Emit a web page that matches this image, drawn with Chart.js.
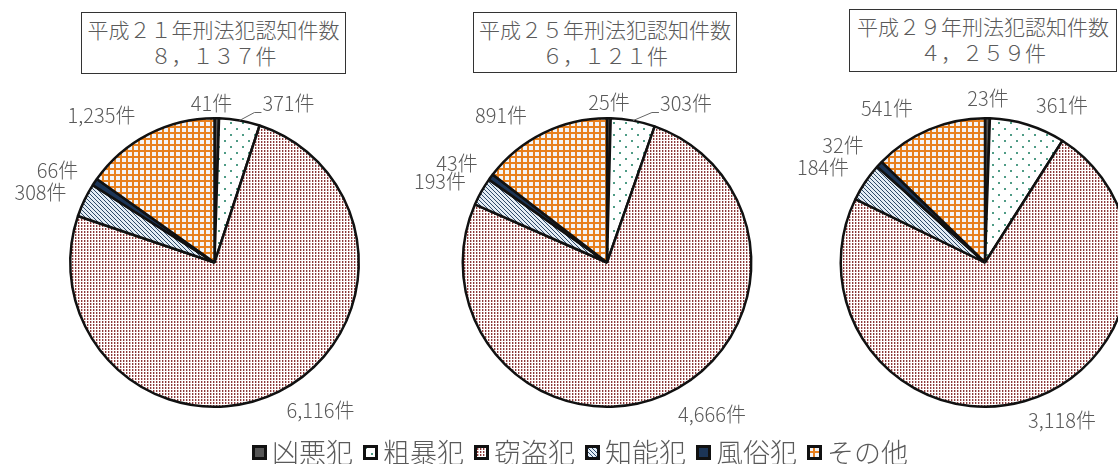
<!DOCTYPE html>
<html lang="ja">
<head>
<meta charset="utf-8">
<script src="https://cdn.jsdelivr.net/npm/chart.js@4.4.1/dist/chart.umd.min.js"></script>
<style>
  html, body { margin: 0; padding: 0; background: #fff; }
  body { position: relative; width: 1118px; height: 464px; overflow: hidden; font-family: "Noto Sans CJK JP", sans-serif; }
  .title { position: absolute; box-sizing: border-box; border: 1.5px solid #333; color: #5a5a5a; text-align: center; font-size: 21px; font-weight: 300; line-height: 26px; padding-top: 3px; white-space: nowrap; }
  .pie { position: absolute; top: 0; }
  #legend { position: absolute; left: 252px; top: 438px; display: flex; align-items: center; }
  .item { display: flex; align-items: center; margin-right: 10px; }
  .item canvas { display: block; margin-right: 5px; }
  .item span { font-size: 27px; font-weight: 300; line-height: 28px; color: #5a5a5a; }
</style>
</head>
<body>
<div class="title" style="left:81px;top:12px;width:265px;height:62px" id="t0"></div>
<div class="title" style="left:473px;top:12px;width:264px;height:61px" id="t1"></div>
<div class="title" style="left:849px;top:9px;width:268px;height:63px" id="t2"></div>
<canvas class="pie" id="pie0" width="395" height="464" style="left:0px"></canvas>
<canvas class="pie" id="pie1" width="385" height="464" style="left:395px"></canvas>
<canvas class="pie" id="pie2" width="380" height="464" style="left:780px"></canvas>
<div id="legend"></div>
<script>
// data
const categories = ['凶悪犯', '粗暴犯', '窃盗犯', '知能犯', '風俗犯', 'その他'];
const years = ['平成２１年', '平成２５年', '平成２９年'];
const h21 = [41, 371, 6116, 308, 66, 1235];
const h25 = [25, 303, 4666, 193, 43, 891];
const h29 = [23, 361, 3118, 184, 32, 541];
const seriesList = [h21, h25, h29];

// label placement relative to pie centre (category order)
const labelOffsets = [
  [[-3, -159], [74, -159], [106, 148], [-174, -70], [-157, -92], [-113, -147]],
  [[2, -160], [79, -159], [105, 152], [-167, -81], [-150, -99], [-106, -147]],
  [[3, -164], [77, -157], [77, 158], [-162, -95], [-142, -117], [-98, -154]],
];
const leaderLines = [
  [false, true, false, false, false, false],
  [false, true, false, false, false, false],
  [false, false, false, false, false, false],
];
const paddings = [
  { left: 69, right: 35, top: 117, bottom: 56 },
  { left: 66.5, right: 27.5, top: 117, bottom: 56 },
  { left: 59.5, right: 29.5, top: 117, bottom: 56 },
];

function makePattern(kind) {
  const c = document.createElement('canvas');
  const g = c.getContext('2d');
  if (kind === 'solidGray') {
    return '#555';
  }
  if (kind === 'navy') {
    return '#1c3557';
  }
  if (kind === 'dots') {
    c.width = 12; c.height = 12;
    g.fillStyle = '#fff'; g.fillRect(0, 0, 12, 12);
    g.fillStyle = '#4f9c86';
    g.fillRect(2, 2, 2, 2); g.fillRect(8, 8, 2, 2);
  } else if (kind === 'fine') {
    c.width = 3; c.height = 3;
    g.fillStyle = '#fff'; g.fillRect(0, 0, 3, 3);
    g.fillStyle = '#8b3a3a'; g.fillRect(0, 0, 1, 2);
    g.fillStyle = '#d9b6b6'; g.fillRect(1, 0, 1, 2);
  } else if (kind === 'diag') {
    c.width = 4; c.height = 4;
    g.fillStyle = '#e4edf5'; g.fillRect(0, 0, 4, 4);
    g.fillStyle = '#2f4b6a';
    for (let i = 0; i < 4; i++) g.fillRect(i, i, 1, 1);
  } else if (kind === 'grid') {
    c.width = 6; c.height = 6;
    g.fillStyle = '#f3f4f7'; g.fillRect(0, 0, 6, 6);
    g.fillStyle = '#e8801e';
    g.fillRect(0, 0, 6, 2); g.fillRect(0, 0, 2, 6);
  }
  return g.createPattern(c, 'repeat');
}

const fills = ['solidGray', 'dots', 'fine', 'diag', 'navy', 'grid'].map(makePattern);

function fullWidth(n) {
  return n.toLocaleString('en-US').replace(/[0-9]/g, d => String.fromCharCode(0xFF10 + Number(d))).replace(/,/g, '，');
}

const sliceLabels = {
  id: 'sliceLabels',
  afterDraw(chart, args, opts) {
    const ctx = chart.ctx;
    const meta = chart.getDatasetMeta(0);
    const values = chart.data.datasets[0].data;
    const cx = meta.data[0].x, cy = meta.data[0].y;
    ctx.save();
    ctx.font = '300 20px "Noto Sans CJK JP"';
    ctx.fillStyle = '#5a5a5a';
    ctx.textAlign = 'center';
    ctx.textBaseline = 'middle';
    values.forEach((v, i) => {
      const [dx, dy] = opts.offsets[i];
      const text = v.toLocaleString('en-US') + '件';
      ctx.fillText(text, cx + dx, cy + dy);
      if (opts.leaders[i]) {
        const a = meta.data[i];
        const mid = (a.startAngle + a.endAngle) / 2;
        const w = ctx.measureText(text).width;
        const lx = cx + dx - w / 2 - 1, ly = cy + dy + 9;
        ctx.strokeStyle = '#666';
        ctx.lineWidth = 1;
        ctx.beginPath();
        ctx.moveTo(lx, ly);
        ctx.lineTo(lx - 7, ly);
        ctx.lineTo(cx + a.outerRadius * Math.cos(mid), cy + a.outerRadius * Math.sin(mid));
        ctx.stroke();
      }
    });
    ctx.restore();
  }
};

seriesList.forEach((series, k) => {
  const total = series.reduce((s, v) => s + v, 0);
  document.getElementById('t' + k).innerHTML = years[k] + '刑法犯認知件数<br>' + fullWidth(total) + '件';
  new Chart(document.getElementById('pie' + k), {
    type: 'pie',
    data: {
      labels: categories,
      datasets: [{
        data: series,
        backgroundColor: fills,
        borderColor: '#111',
        borderWidth: 2.5,
      }],
    },
    options: {
      responsive: false,
      animation: false,
      layout: { padding: paddings[k] },
      plugins: {
        legend: { display: false },
        tooltip: { enabled: false },
        sliceLabels: { offsets: labelOffsets[k], leaders: leaderLines[k] },
      },
    },
    plugins: [sliceLabels],
  });
});

// legend
const legend = document.getElementById('legend');
categories.forEach((name, i) => {
  const item = document.createElement('div');
  item.className = 'item';
  const box = document.createElement('canvas');
  box.width = 15; box.height = 15;
  const g = box.getContext('2d');
  g.fillStyle = '#111';
  g.fillRect(0, 0, 15, 15);
  g.fillStyle = fills[i];
  g.fillRect(3, 3, 9, 9);
  const label = document.createElement('span');
  label.textContent = name;
  item.appendChild(box);
  item.appendChild(label);
  legend.appendChild(item);
});
</script>
</body>
</html>
